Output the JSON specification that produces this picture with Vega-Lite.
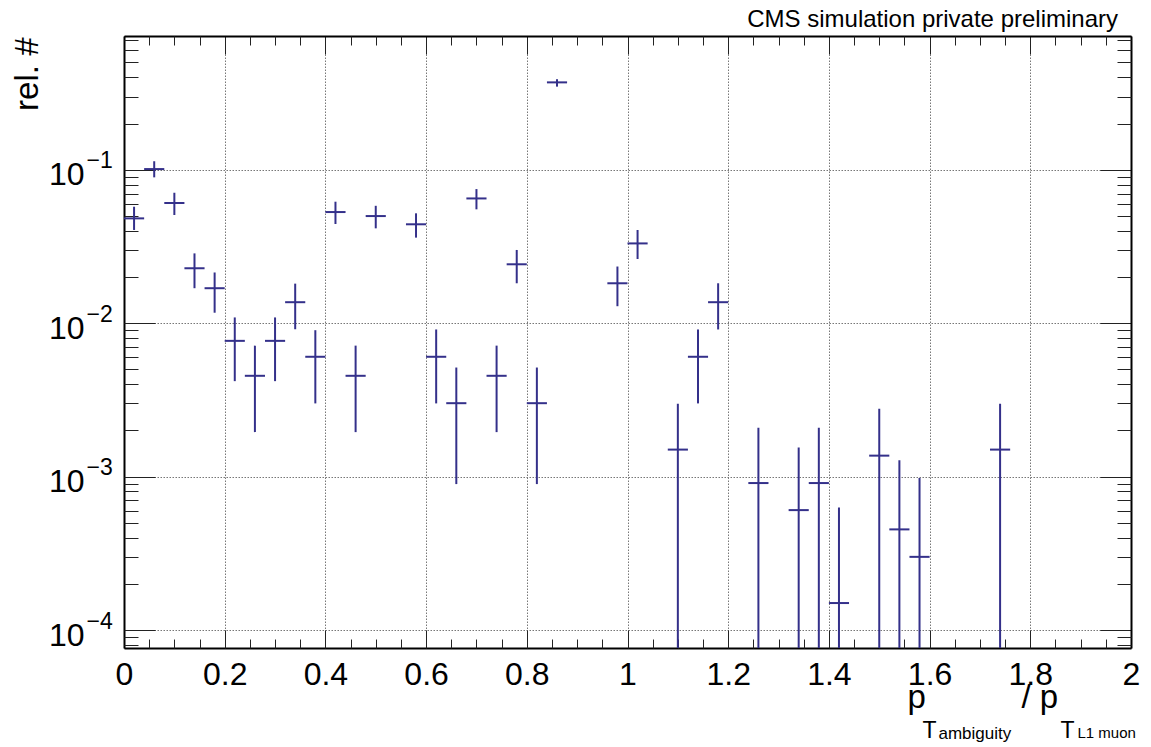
{
  "$schema": "https://vega.github.io/schema/vega-lite/v6.json",
  "width": 1007,
  "height": 612,
  "autosize": {"type": "none"},
  "padding": {"left": 124, "top": 36, "right": 20, "bottom": 99},
  "background": "white",
  "config": {
    "font": "Liberation Sans",
    "view": {"stroke": null},
    "axis": {"labelFont": "Liberation Sans", "titleFont": "Liberation Sans", "titleFontWeight": "normal", "titleColor": "black", "labelColor": "black", "tickColor": "#222", "tickWidth": 1, "domainColor": "black", "domainWidth": 2, "gridColor": "#777777", "gridDash": [1.5, 1.5], "gridWidth": 1, "labelFlush": false, "labelOverlap": false}
  },
  "title": {"text": "CMS simulation private preliminary", "anchor": "end", "frame": "group", "fontSize": 24, "fontWeight": "normal", "font": "Liberation Sans", "color": "black", "offset": 4, "dx": -13},
  "data": {"values": [
    {"x": 0.02, "xlo": 0.00, "xhi": 0.04, "y": 0.0482, "ylo": 0.0405, "yhi": 0.0574},
    {"x": 0.06, "xlo": 0.04, "xhi": 0.08, "y": 0.101, "ylo": 0.0892, "yhi": 0.1136},
    {"x": 0.10, "xlo": 0.08, "xhi": 0.12, "y": 0.0607, "ylo": 0.0507, "yhi": 0.0708},
    {"x": 0.14, "xlo": 0.12, "xhi": 0.16, "y": 0.0228, "ylo": 0.0169, "yhi": 0.0285},
    {"x": 0.18, "xlo": 0.16, "xhi": 0.20, "y": 0.0169, "ylo": 0.0117, "yhi": 0.0214},
    {"x": 0.22, "xlo": 0.20, "xhi": 0.24, "y": 0.00767, "ylo": 0.00419, "yhi": 0.0109},
    {"x": 0.26, "xlo": 0.24, "xhi": 0.28, "y": 0.00454, "ylo": 0.00195, "yhi": 0.00714},
    {"x": 0.30, "xlo": 0.28, "xhi": 0.32, "y": 0.00767, "ylo": 0.00419, "yhi": 0.0109},
    {"x": 0.34, "xlo": 0.32, "xhi": 0.36, "y": 0.0137, "ylo": 0.00913, "yhi": 0.0181},
    {"x": 0.38, "xlo": 0.36, "xhi": 0.40, "y": 0.00604, "ylo": 0.0030, "yhi": 0.0090},
    {"x": 0.42, "xlo": 0.40, "xhi": 0.44, "y": 0.053, "ylo": 0.0443, "yhi": 0.0619},
    {"x": 0.46, "xlo": 0.44, "xhi": 0.48, "y": 0.00454, "ylo": 0.00195, "yhi": 0.00714},
    {"x": 0.50, "xlo": 0.48, "xhi": 0.52, "y": 0.0499, "ylo": 0.0415, "yhi": 0.0582},
    {"x": 0.58, "xlo": 0.56, "xhi": 0.60, "y": 0.0441, "ylo": 0.0361, "yhi": 0.0520},
    {"x": 0.62, "xlo": 0.60, "xhi": 0.64, "y": 0.00604, "ylo": 0.0030, "yhi": 0.0091},
    {"x": 0.66, "xlo": 0.64, "xhi": 0.68, "y": 0.00301, "ylo": 0.000894, "yhi": 0.00514},
    {"x": 0.70, "xlo": 0.68, "xhi": 0.72, "y": 0.065, "ylo": 0.0552, "yhi": 0.0748},
    {"x": 0.74, "xlo": 0.72, "xhi": 0.76, "y": 0.00454, "ylo": 0.00195, "yhi": 0.00714},
    {"x": 0.78, "xlo": 0.76, "xhi": 0.80, "y": 0.0242, "ylo": 0.0182, "yhi": 0.0300},
    {"x": 0.82, "xlo": 0.80, "xhi": 0.84, "y": 0.00301, "ylo": 0.000894, "yhi": 0.00514},
    {"x": 0.86, "xlo": 0.84, "xhi": 0.88, "y": 0.371, "ylo": 0.348, "yhi": 0.389},
    {"x": 0.98, "xlo": 0.96, "xhi": 1.00, "y": 0.0182, "ylo": 0.0129, "yhi": 0.0234},
    {"x": 1.02, "xlo": 1.00, "xhi": 1.04, "y": 0.0331, "ylo": 0.0262, "yhi": 0.0405},
    {"x": 1.10, "xlo": 1.08, "xhi": 1.12, "y": 0.0015, "ylo": 0.000001, "yhi": 0.00299},
    {"x": 1.14, "xlo": 1.12, "xhi": 1.16, "y": 0.00604, "ylo": 0.0030, "yhi": 0.0091},
    {"x": 1.18, "xlo": 1.16, "xhi": 1.20, "y": 0.0137, "ylo": 0.0091, "yhi": 0.0182},
    {"x": 1.26, "xlo": 1.24, "xhi": 1.28, "y": 0.000908, "ylo": 0.000001, "yhi": 0.00208},
    {"x": 1.34, "xlo": 1.32, "xhi": 1.36, "y": 0.000605, "ylo": 0.000001, "yhi": 0.00155},
    {"x": 1.38, "xlo": 1.36, "xhi": 1.40, "y": 0.000908, "ylo": 0.000001, "yhi": 0.00208},
    {"x": 1.42, "xlo": 1.40, "xhi": 1.44, "y": 0.00015, "ylo": 0.000001, "yhi": 0.00063},
    {"x": 1.50, "xlo": 1.48, "xhi": 1.52, "y": 0.00137, "ylo": 0.000001, "yhi": 0.00277},
    {"x": 1.54, "xlo": 1.52, "xhi": 1.56, "y": 0.000453, "ylo": 0.000001, "yhi": 0.00128},
    {"x": 1.58, "xlo": 1.56, "xhi": 1.60, "y": 0.0003, "ylo": 0.000001, "yhi": 0.00098},
    {"x": 1.74, "xlo": 1.72, "xhi": 1.76, "y": 0.0015, "ylo": 0.000001, "yhi": 0.00299}
  ]},
  "resolve": {"axis": {"x": "independent", "y": "independent"}},
  "layer": [
    {
      "mark": {"type": "rule", "color": "#34308a", "strokeWidth": 2, "clip": true},
      "encoding": {
        "x": {"field": "x", "type": "quantitative", "scale": {"domain": [0, 2], "nice": false, "zero": false},
          "axis": {"orient": "bottom", "values": [0, 0.2, 0.4, 0.6, 0.8, 1, 1.2, 1.4, 1.6, 1.8, 2], "format": "~g", "ticks": false, "grid": true, "domain": true, "labelFontSize": 32, "labelPadding": 11,
            "title": "p", "titleFontSize": 33, "titleX": 783, "titleY": 59, "titleAlign": "left", "titleBaseline": "alphabetic", "titleAngle": 0}},
        "y": {"field": "ylo", "type": "quantitative", "scale": {"type": "log", "domain": [0.0000764, 0.744], "nice": false, "zero": false},
          "axis": {"orient": "left", "values": [0.0001, 0.001, 0.01, 0.1], "labelExpr": "'10'", "ticks": false, "grid": true, "domain": true, "labelFontSize": 32, "labelPadding": 40, "labelBaseline": "middle", "labelOffset": 5,
            "title": "rel. #", "titleFontSize": 33, "titleAngle": -90, "titleX": -87, "titleY": 1, "titleAlign": "right", "titleBaseline": "alphabetic"}},
        "y2": {"field": "yhi"}
      }
    },
    {
      "mark": {"type": "rule", "color": "#34308a", "strokeWidth": 2, "clip": true},
      "encoding": {
        "x": {"field": "xlo", "type": "quantitative", "scale": {"domain": [0, 2], "nice": false, "zero": false},
          "axis": {"orient": "bottom", "values": [0, 0.2, 0.4, 0.6, 0.8, 1, 1.2, 1.4, 1.6, 1.8, 2], "labels": false, "ticks": true, "tickSize": -18, "grid": false, "domain": false,
            "title": "T", "titleFontSize": 23, "titleX": 798, "titleY": 89, "titleAlign": "left", "titleBaseline": "alphabetic", "titleAngle": 0}},
        "x2": {"field": "xhi"},
        "y": {"field": "y", "type": "quantitative", "scale": {"type": "log", "domain": [0.0000764, 0.744], "nice": false, "zero": false},
          "axis": {"orient": "left", "values": [0.0001, 0.001, 0.01, 0.1], "labels": false, "ticks": true, "tickSize": -31, "grid": false, "domain": false,
            "title": "/ p", "titleFontSize": 33, "titleAngle": 0, "titleX": 897, "titleY": 671, "titleAlign": "left", "titleBaseline": "alphabetic"}}
      }
    },
    {
      "mark": {"type": "point", "opacity": 0},
      "encoding": {
        "x": {"field": "x", "type": "quantitative", "scale": {"domain": [0, 2], "nice": false, "zero": false},
          "axis": {"orient": "bottom", "values": [0.05, 0.1, 0.15, 0.25, 0.3, 0.35, 0.45, 0.5, 0.55, 0.65, 0.7, 0.75, 0.85, 0.9, 0.95, 1.05, 1.1, 1.15, 1.25, 1.3, 1.35, 1.45, 1.5, 1.55, 1.65, 1.7, 1.75, 1.85, 1.9, 1.95], "labels": false, "ticks": true, "tickSize": -9, "grid": false, "domain": false,
            "title": "ambiguity", "titleFontSize": 17, "titleX": 814, "titleY": 90, "titleAlign": "left", "titleBaseline": "alphabetic", "titleAngle": 0}},
        "y": {"field": "y", "type": "quantitative", "scale": {"type": "log", "domain": [0.0000764, 0.744], "nice": false, "zero": false},
          "axis": {"orient": "left", "values": [0.00008, 0.00009, 0.0002, 0.0003, 0.0004, 0.0005, 0.0006, 0.0007, 0.0008, 0.0009, 0.002, 0.003, 0.004, 0.005, 0.006, 0.007, 0.008, 0.009, 0.02, 0.03, 0.04, 0.05, 0.06, 0.07, 0.08, 0.09, 0.2, 0.3, 0.4, 0.5, 0.6, 0.7], "labels": false, "ticks": true, "tickSize": -14, "grid": false, "domain": false,
            "title": "T", "titleFontSize": 23, "titleAngle": 0, "titleX": 936, "titleY": 701, "titleAlign": "left", "titleBaseline": "alphabetic"}}
      }
    },
    {
      "mark": {"type": "point", "opacity": 0},
      "encoding": {
        "x": {"field": "x", "type": "quantitative", "scale": {"domain": [0, 2], "nice": false, "zero": false},
          "axis": {"orient": "top", "values": [0, 0.2, 0.4, 0.6, 0.8, 1, 1.2, 1.4, 1.6, 1.8, 2], "labels": false, "ticks": true, "tickSize": -18, "grid": false, "domain": true,
            "title": "L1 muon", "titleFontSize": 15, "titleX": 953, "titleY": 701, "titleAlign": "left", "titleBaseline": "alphabetic", "titleAngle": 0}},
        "y": {"field": "y", "type": "quantitative", "scale": {"type": "log", "domain": [0.0000764, 0.744], "nice": false, "zero": false},
          "axis": {"orient": "right", "values": [0.0001, 0.001, 0.01, 0.1], "labels": false, "ticks": true, "tickSize": -31, "grid": false, "domain": true, "title": null}}
      }
    },
    {
      "mark": {"type": "point", "opacity": 0},
      "encoding": {
        "x": {"field": "x", "type": "quantitative", "scale": {"domain": [0, 2], "nice": false, "zero": false},
          "axis": {"orient": "top", "values": [0.05, 0.1, 0.15, 0.25, 0.3, 0.35, 0.45, 0.5, 0.55, 0.65, 0.7, 0.75, 0.85, 0.9, 0.95, 1.05, 1.1, 1.15, 1.25, 1.3, 1.35, 1.45, 1.5, 1.55, 1.65, 1.7, 1.75, 1.85, 1.9, 1.95], "labels": false, "ticks": true, "tickSize": -9, "grid": false, "domain": false, "title": null}},
        "y": {"field": "y", "type": "quantitative", "scale": {"type": "log", "domain": [0.0000764, 0.744], "nice": false, "zero": false},
          "axis": {"orient": "right", "values": [0.00008, 0.00009, 0.0002, 0.0003, 0.0004, 0.0005, 0.0006, 0.0007, 0.0008, 0.0009, 0.002, 0.003, 0.004, 0.005, 0.006, 0.007, 0.008, 0.009, 0.02, 0.03, 0.04, 0.05, 0.06, 0.07, 0.08, 0.09, 0.2, 0.3, 0.4, 0.5, 0.6, 0.7], "labels": false, "ticks": true, "tickSize": -14, "grid": false, "domain": false, "title": null}}
      }
    },
    {
      "mark": {"type": "point", "opacity": 0},
      "encoding": {
        "x": {"field": "x", "type": "quantitative", "scale": {"domain": [0, 2], "nice": false, "zero": false}, "axis": null},
        "y": {"field": "y", "type": "quantitative", "scale": {"type": "log", "domain": [0.0000764, 0.744], "nice": false, "zero": false},
          "axis": {"orient": "left", "values": [0.0001, 0.001, 0.01, 0.1], "labelExpr": "datum.value < 0.0005 ? '−4' : datum.value < 0.005 ? '−3' : datum.value < 0.05 ? '−2' : '−1'", "labelFontSize": 23, "labelAlign": "left", "labelBaseline": "middle", "labelOffset": -9, "labelPadding": 38, "ticks": false, "grid": false, "domain": false, "title": null}}
      }
    }
  ]
}
